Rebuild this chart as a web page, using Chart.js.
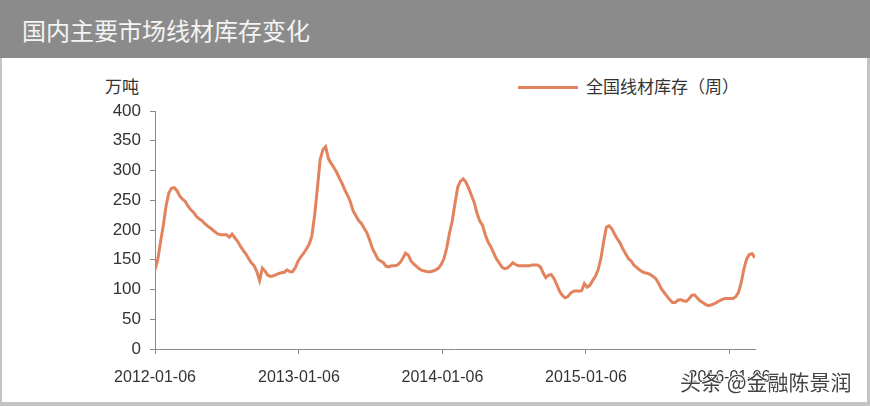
<!DOCTYPE html>
<html>
<head>
<meta charset="utf-8">
<script src="https://cdn.jsdelivr.net/npm/chart.js@4"></script>
<style>
  html, body { margin: 0; padding: 0; }
  body { width: 870px; height: 406px; background: #c4c4c4; position: relative; overflow: hidden; font-family: "Noto Sans CJK SC", sans-serif; }
  #titlebar { position: absolute; left: 0; top: 0; width: 870px; height: 58px; background: #8b8b8b; }
  #titlebar span { position: absolute; left: 22px; top: 14px; font-size: 24px; line-height: 32px; color: #f4f4f4; }
  #panel { position: absolute; left: 2px; top: 58px; width: 865px; height: 344px; background: #fff; }
  #box { position: absolute; left: 0; top: 58px; width: 870px; height: 344px; }
  #unit { position: absolute; left: 105px; top: 75px; font-size: 17px; line-height: 22px; color: #333; }
  #legend { position: absolute; left: 518px; top: 75px; height: 22px; font-size: 17px; line-height: 22px; color: #333; white-space: nowrap; }
  #legend i { display: inline-block; width: 60px; height: 3px; margin: 0 8px 0 0; vertical-align: middle; position: relative; top: -1px; }
  #mark { position: absolute; left: 680px; top: 367px; font-size: 21px; line-height: 28px; color: #444;
          text-shadow: 1px 0 #fff, -1px 0 #fff, 0 1px #fff, 0 -1px #fff; }
</style>
</head>
<body>
<div id="titlebar"><span>国内主要市场线材库存变化</span></div>
<div id="panel"></div>
<div id="unit">万吨</div>
<div id="legend"></div>
<div id="box"><canvas id="c" width="870" height="344"></canvas></div>
<div id="mark">头条 @金融陈景润</div>
<script>
// 周度库存，2012-01-06 起每周一个值（万吨）
const seriesName = "全国线材库存（周）";
const stockWeekly = [
  133, 150, 180, 207, 240, 262, 270, 271, 266, 257,
  252, 248, 240, 234, 230, 223, 219, 216, 211, 207,
  204, 200, 196, 193, 192, 192, 192, 188, 193, 187,
  181, 173, 166, 160, 152, 145, 140, 130, 115, 136,
  131, 124, 122, 123, 125, 127, 128, 129, 133, 130,
  130, 137, 148, 155, 161, 168, 176, 190, 225, 270,
  318, 335, 340, 320, 312, 305, 297, 287, 278, 267,
  258, 247, 232, 224, 216, 211, 203, 195, 183, 169,
  160, 151, 148, 145, 139, 138, 140, 140, 141, 145,
  152, 161, 158, 148, 143, 139, 135, 132, 131, 130,
  130, 131, 133, 136, 142, 152, 170, 195, 215, 245,
  272, 282, 286, 280, 270, 258, 246, 228, 215, 208,
  192, 180, 172, 162, 152, 145, 138, 135, 136, 140,
  145, 142, 140, 140, 140, 140, 140, 141, 141, 141,
  138, 128, 120, 124, 125, 118, 108, 97, 90, 86,
  88, 94, 97, 98, 97, 98, 110, 104, 107, 115,
  122, 133, 152, 180, 205, 207, 202, 193, 185, 178,
  168, 160, 152, 148, 141, 137, 133, 130, 128, 127,
  125, 122, 118, 110, 101, 95, 89, 83, 78, 78,
  82, 83, 81, 80, 84, 90, 91, 86, 81, 78,
  75, 73, 74, 76, 78, 81, 83, 85, 85, 85,
  85, 88, 95, 112, 135, 152, 159, 160, 153
];

// x 轴刻度：距 2012-01-06 的天数
const xTickLabels = ["2012-01-06", "2013-01-06", "2014-01-06", "2015-01-06", "2016-01-06"];
const xTickDays = [0, 366, 731, 1096, 1461];
const yTicks = [0, 50, 100, 150, 200, 250, 300, 350, 400];

const lineColor = "#e3835e";
const axisColor = "#8a8a8a";
const labelColor = "#333";

const points = stockWeekly.map((v, i) => ({ x: i * 7, y: v }));

// 图例用 html 画，位置好控制
const lg = document.getElementById("legend");
const sw = document.createElement("i");
sw.style.background = lineColor;
lg.appendChild(sw);
lg.appendChild(document.createTextNode(seriesName));

new Chart(document.getElementById("c").getContext("2d"), {
  type: "line",
  data: {
    datasets: [{
      label: seriesName,
      data: points,
      borderColor: lineColor,
      backgroundColor: lineColor,
      borderWidth: 3,
      pointRadius: 0,
      tension: 0
    }]
  },
  options: {
    responsive: false, animation: false,
    layout: { padding: { left: 0, right: 115, top: 53, bottom: 0 } },
    plugins: {
      tooltip: { enabled: false },
      legend: { display: false }
    },
    scales: {
      x: {
        type: "linear", min: 0, max: (stockWeekly.length - 1) * 7,
        afterBuildTicks: s => { s.ticks = xTickDays.map(d => ({ value: d })); },
        afterFit: s => { s.height = 53; },
        ticks: {
          autoSkip: false, maxRotation: 0, padding: 14, color: labelColor,
          font: { family: "'Liberation Sans'", size: 16 },
          callback: (v, i) => xTickLabels[i]
        },
        grid: { drawOnChartArea: false, drawTicks: true, tickLength: 5, color: axisColor },
        border: { color: axisColor, width: 1 }
      },
      y: {
        min: 0, max: 400,
        afterBuildTicks: s => { s.ticks = yTicks.map(v => ({ value: v })); },
        afterFit: s => { s.width = 155; },
        ticks: {
          padding: 9, color: labelColor,
          font: { family: "'Liberation Sans'", size: 17 }
        },
        grid: { drawOnChartArea: false, drawTicks: true, tickLength: 5, color: axisColor },
        border: { color: axisColor, width: 1 }
      }
    }
  }
});
</script>
</body>
</html>
